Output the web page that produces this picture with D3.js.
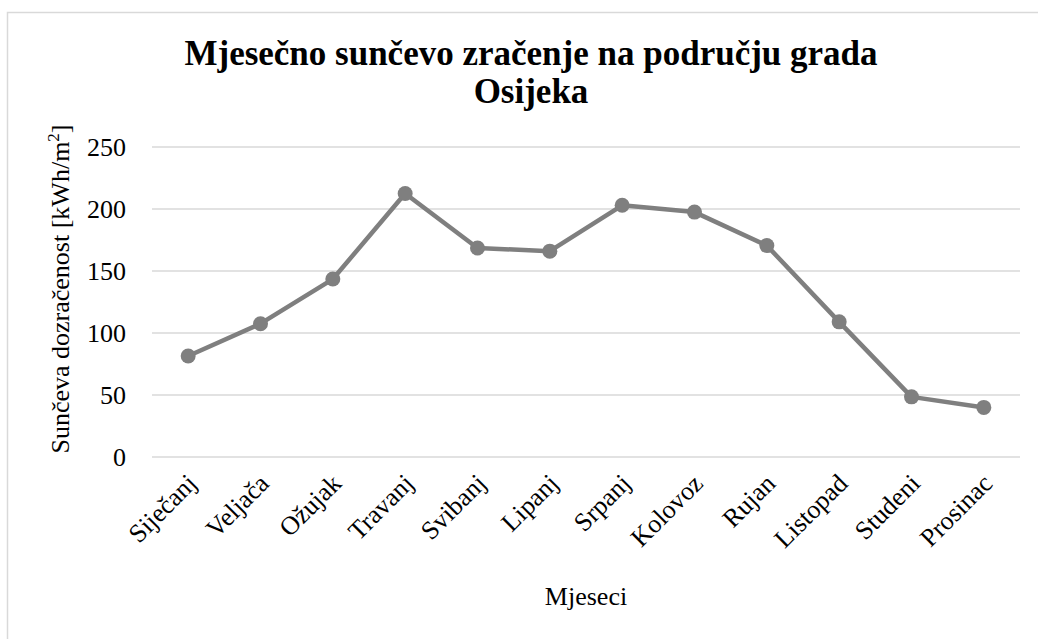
<!DOCTYPE html>
<meta charset="utf-8">
<title>Mjesečno sunčevo zračenje</title>
<body style="margin:0;background:#fff">
<svg width=1038 height=639></svg>
<script src="https://d3js.org/d3.v7.min.js"></script>
<script>
    const months = ["Siječanj","Veljača","Ožujak","Travanj","Svibanj","Lipanj",
                    "Srpanj","Kolovoz","Rujan","Listopad","Studeni","Prosinac"];
    const irradiation = [81.5, 107.5, 143.5, 212.5, 168.5, 166, 203, 197.5, 170.5, 109, 48.5, 40];
    const yTicks = [0, 50, 100, 150, 200, 250];

    const svg = d3.select('svg');
    const font = '"Liberation Serif","Times New Roman",serif';
    const plotLeft = 152, plotRight = 1020, plotTop = 147, plotBottom = 457;

    // chart area frame (cut off on the right and bottom, as in the source)
    svg.append('rect')
        .attr('x', 7.5).attr('y', 12.5)
        .attr('width', 1100).attr('height', 700)
        .attr('fill', 'none')
        .attr('stroke', '#d9d9d9')
        .attr('stroke-width', 1.5);

    const x = d3.scaleBand().domain(months).range([plotLeft, plotRight]);
    const y = d3.scaleLinear().domain([0, 250]).range([plotBottom, plotTop]);

    // gridlines
    svg.append('g').selectAll('line')
        .data(yTicks)
        .enter().append('line')
        .attr('x1', plotLeft).attr('x2', plotRight)
        .attr('y1', d => y(d)).attr('y2', d => y(d))
        .attr('stroke', '#d9d9d9')
        .attr('stroke-width', 1.5);

    // y axis labels
    const yAxis = svg.append('g')
        .attr('transform', `translate(${plotLeft - 26},0)`)
        .call(d3.axisLeft(y).tickValues(yTicks).tickSize(0).tickPadding(0));
    yAxis.select('.domain').remove();
    yAxis.selectAll('text')
        .attr('font-family', font)
        .attr('font-size', 26)
        .attr('fill', '#000')
        .attr('dy', '0.34em');

    // x axis labels, rotated
    const xAxis = svg.append('g')
        .attr('transform', `translate(0,${plotBottom})`)
        .call(d3.axisBottom(x).tickSize(0).tickPadding(0));
    xAxis.select('.domain').remove();
    xAxis.selectAll('text')
        .attr('font-family', font)
        .attr('font-size', 26)
        .attr('fill', '#000')
        .attr('text-anchor', 'end')
        .attr('dy', null)
        .attr('y', 0)
        .attr('transform', 'translate(10,28) rotate(-45)');

    // series line
    const line = d3.line()
        .x((d, i) => x(months[i]) + x.bandwidth() / 2)
        .y(d => y(d));

    svg.append('path')
        .datum(irradiation)
        .attr('d', line)
        .attr('fill', 'none')
        .attr('stroke', '#7f7f7f')
        .attr('stroke-width', 4.5)
        .attr('stroke-linejoin', 'round');

    svg.append('g').selectAll('circle')
        .data(irradiation)
        .enter().append('circle')
        .attr('cx', (d, i) => x(months[i]) + x.bandwidth() / 2)
        .attr('cy', d => y(d))
        .attr('r', 7.5)
        .attr('fill', '#7f7f7f');

    // title
    const title = svg.append('text')
        .attr('x', 531).attr('y', 65)
        .attr('text-anchor', 'middle')
        .attr('font-family', font)
        .attr('font-size', 35)
        .attr('font-weight', 'bold');
    title.append('tspan').attr('x', 531).text('Mjesečno sunčevo zračenje na području grada');
    title.append('tspan').attr('x', 531).attr('dy', 38).text('Osijeka');

    // axis titles
    const yTitle = svg.append('text')
        .attr('transform', 'translate(69,289) rotate(-90)')
        .attr('text-anchor', 'middle')
        .attr('font-family', font)
        .attr('font-size', 26);
    yTitle.append('tspan').text('Sunčeva dozračenost [kWh/m');
    yTitle.append('tspan').attr('font-size', 17).attr('dy', -10).text('2');
    yTitle.append('tspan').attr('dy', 10).text(']');

    svg.append('text')
        .attr('x', (plotLeft + plotRight) / 2).attr('y', 605)
        .attr('text-anchor', 'middle')
        .attr('font-family', font)
        .attr('font-size', 26)
        .text('Mjeseci');
</script>
